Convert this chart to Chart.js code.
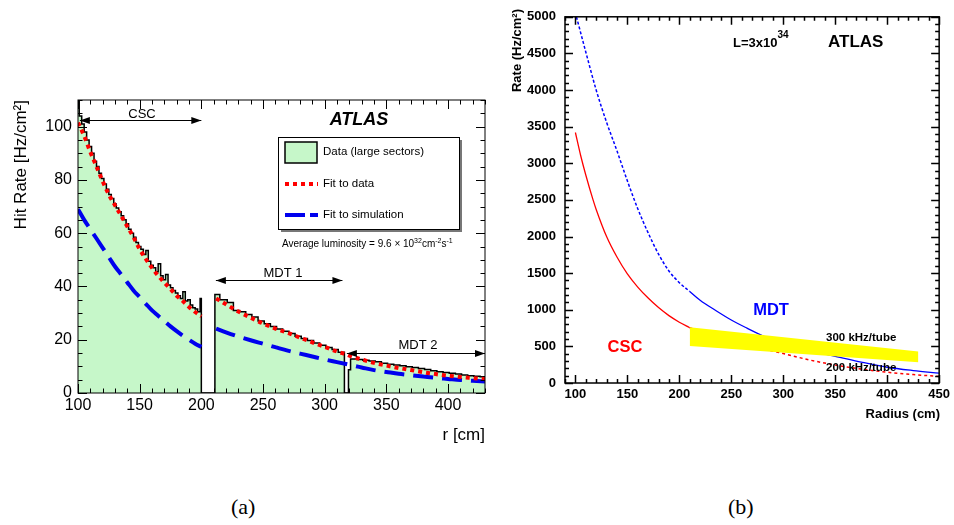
<!DOCTYPE html>
<html>
<head>
<meta charset="utf-8">
<script src="https://cdn.jsdelivr.net/npm/chart.js@4.4.1/dist/chart.umd.min.js"></script>
<style>
    body { margin: 0; background: #fff; width: 954px; height: 525px; position: relative; overflow: hidden; }
    #wrapA { position: absolute; left: 0; top: 0; width: 495px; height: 470px; }
    #wrapB { position: absolute; left: 495px; top: 0; width: 459px; height: 470px; }
    .cap { position: absolute; top: 494px; font-family: "Liberation Serif", serif; font-size: 22px; color: #000; }
</style>
</head>
<body>
<div id="wrapA"><canvas id="chartA" width="495" height="470"></canvas></div>
<div id="wrapB"><canvas id="chartB" width="459" height="470"></canvas></div>
<div class="cap" style="left:231px">(a)</div>
<div class="cap" style="left:728px">(b)</div>
<script>
// ---------- panel (a): measured hit rates ----------
// histogram: lower bin edge (cm) and rate (Hz/cm2)
var histR = [100, 101, 103, 105, 107, 109, 111, 113, 115, 117, 119, 121, 123, 125, 127, 129, 131, 133, 135, 137,
    139, 141, 143, 145, 147, 149, 151, 153, 155, 157, 159, 161, 163, 165, 167, 169, 171, 173, 175, 177,
    179, 181, 183, 185, 187, 189, 191, 193, 195, 197, 199, 200,
    211, 215, 221, 226, 231, 236, 241, 246, 251, 256, 261, 266, 271, 276, 281, 286, 291, 296, 301, 306, 311, 316,
    319.3, 321, 326, 331, 336, 341, 346, 351, 356, 361, 366, 371, 376, 381, 386, 391, 396, 401, 406, 411, 416,
    421, 426, 430];
var histRate = [113, 104, 101, 98, 95, 92.5, 90, 87, 85, 82.5, 80.5, 78.5, 76.5, 74.5, 73, 71, 69.5, 68, 66.5, 65,
    63.5, 61.5, 60, 58.5, 56.5, 55, 54, 52, 53.5, 49.5, 48, 47, 45.5, 48.5, 44, 42.5, 44.5, 40.5, 39.5, 38.5,
    37.5, 36.5, 35.5, 38, 34.5, 35, 33, 32, 31.5, 30.5, 35.5, 0,
    37, 35, 34, 31, 30.5, 29.5, 28.5, 27, 26, 25, 24, 23.2, 22.3, 21.3, 20.5, 19.7, 18.8, 17.9, 17.1, 16.3, 15.3, 0,
    8.7, 12.8, 12.6, 12.3, 12.0, 11.7, 11.2, 10.8, 10.5, 10.2, 9.9, 9.6, 9.2, 8.8, 8.4, 8.0, 7.7, 7.4, 7.1, 6.8, 6.5,
    6.3, 6.1, 6.1];

var fitDataR = [100, 105, 110, 115, 120, 125, 130, 135, 140, 145, 150, 155, 160, 165, 170, 175, 180, 185, 190, 195, 200,
    205,
    212, 220, 230, 240, 250, 260, 270, 280, 290, 300, 310, 318, 320, 330, 340, 350, 360, 370, 380, 390, 400, 410, 420, 430];
var fitDataRate = [101.5, 96.5, 90.5, 85, 79.5, 74.5, 70.5, 66.5, 62.5, 58.5, 54, 50.3, 47, 44, 41.5, 39, 36.5, 34.5, 32.3, 30.4, 28.8,
    null,
    35.5, 33.3, 30.6, 28.3, 26.1, 24.2, 22.6, 20.8, 19.0, 17.3, 15.6, 14.4, 14.0, 12.6, 11.3, 10.3, 9.4, 8.6, 7.8, 7.1, 6.5, 6.0, 5.6, 5.2];

var fitSimR = [100, 105, 110, 115, 120, 125, 130, 135, 140, 145, 150, 155, 160, 165, 170, 175, 180, 185, 190, 195, 200,
    205,
    212, 220, 230, 240, 250, 260, 270, 280, 290, 300, 310, 320, 330, 340, 350, 360, 370, 380, 390, 400, 410, 420, 430];
var fitSimRate = [69, 65, 61.5, 58, 54.5, 51, 47.5, 44.5, 41.5, 38.5, 36, 33.5, 31, 29, 27, 25, 23.2, 21.5, 20, 18.5, 17.3,
    null,
    24.2, 22.8, 21.2, 19.8, 18.5, 17.2, 15.9, 14.8, 13.7, 12.6, 11.6, 10.6, 9.6, 8.6, 7.9, 7.2, 6.7, 6.2, 5.7, 5.3, 4.9, 4.6, 4.3];

var xTicksA = [100, 150, 200, 250, 300, 350, 400];
var yTicksA = [0, 20, 40, 60, 80, 100];

// ---------- panel (b): expected rates at L=3x10^34 ----------
var cscR = [100, 105, 110, 117, 120, 130, 140, 150, 160, 170, 180, 190, 200, 210];
var cscRate = [3420, 3110, 2840, 2500, 2370, 2000, 1720, 1490, 1310, 1160, 1030, 920, 830, 755];
var cscExtR = [210, 230, 250, 275, 300, 325, 350, 375, 400, 425, 450];
var cscExtRate = [755, 660, 570, 480, 402, 315, 246, 190, 147, 115, 90];
var mdtExtR = [101, 110, 120, 130, 140, 150, 160, 170, 180, 190, 200, 210];
var mdtExtRate = [5000, 4520, 4000, 3560, 3170, 2760, 2380, 2050, 1760, 1530, 1370, 1250];
var mdtR = [210, 220, 235, 250, 265, 285, 300, 325, 350, 375, 400, 425, 450];
var mdtRate = [1250, 1130, 990, 860, 750, 615, 540, 440, 365, 285, 215, 170, 135];
var bandR = [210, 430];
var bandHigh = [760, 430];
var bandLow = [505, 282];

var xTicksB = [100, 150, 200, 250, 300, 350, 400, 450];
var yTicksB = [0, 500, 1000, 1500, 2000, 2500, 3000, 3500, 4000, 4500, 5000];

var SANS = '"Liberation Sans", Arial, sans-serif';

function pts(xs, ys) {
    return xs.map(function (x, i) { return { x: x, y: ys[i] }; });
}

function plainLabel(v) {
    return String(v);
}

// ROOT style frame with ticks pointing inwards on all four sides
var innerTicks = {
    id: 'innerTicks',
    afterDatasetsDraw: function (chart, args, o) {
        var ctx = chart.ctx, a = chart.chartArea, sx = chart.scales.x, sy = chart.scales.y;
        ctx.save();
        ctx.strokeStyle = '#000';
        ctx.lineWidth = o.lw;
        ctx.beginPath();
        var v, p, L;
        for (v = Math.ceil(sx.min / o.xStep) * o.xStep; v <= sx.max + 1e-6; v += o.xStep) {
            p = Math.round(sx.getPixelForValue(v)) + 0.5;
            L = (Math.abs(v % o.xMajor) < 1e-6) ? o.major : o.minor;
            ctx.moveTo(p, a.bottom); ctx.lineTo(p, a.bottom - L);
            ctx.moveTo(p, a.top); ctx.lineTo(p, a.top + L);
        }
        for (v = Math.ceil(sy.min / o.yStep) * o.yStep; v <= sy.max + 1e-6; v += o.yStep) {
            p = Math.round(sy.getPixelForValue(v)) + 0.5;
            L = (Math.abs(v % o.yMajor) < 1e-6) ? o.major : o.minor;
            ctx.moveTo(a.left, p); ctx.lineTo(a.left + L, p);
            ctx.moveTo(a.right, p); ctx.lineTo(a.right - L, p);
        }
        ctx.stroke();
        ctx.strokeRect(a.left, a.top, a.right - a.left, a.bottom - a.top);
        ctx.restore();
    }
};

function arrow(ctx, x1, x2, y, headLeft, headRight) {
    ctx.beginPath();
    ctx.moveTo(x1, y); ctx.lineTo(x2, y);
    ctx.stroke();
    if (headRight) {
        ctx.beginPath();
        ctx.moveTo(x2, y); ctx.lineTo(x2 - 10, y - 3.5); ctx.lineTo(x2 - 10, y + 3.5);
        ctx.closePath(); ctx.fill();
    }
    if (headLeft) {
        ctx.beginPath();
        ctx.moveTo(x1, y); ctx.lineTo(x1 + 10, y - 3.5); ctx.lineTo(x1 + 10, y + 3.5);
        ctx.closePath(); ctx.fill();
    }
}

// text made of pieces: [text, size, weight, rise]
function richText(ctx, x, y, parts) {
    ctx.textAlign = 'left';
    ctx.textBaseline = 'alphabetic';
    parts.forEach(function (p) {
        ctx.font = (p[2] || 'normal') + ' ' + p[1] + 'px ' + SANS;
        ctx.fillText(p[0], x, y - (p[3] || 0));
        x += ctx.measureText(p[0]).width;
    });
}

function text(ctx, s, x, y, font, align, color) {
    ctx.font = font;
    ctx.textAlign = align || 'center';
    ctx.textBaseline = 'middle';
    ctx.fillStyle = color || '#000';
    ctx.fillText(s, x, y);
}

var annotA = {
    id: 'annotA',
    afterDraw: function (chart) {
        var ctx = chart.ctx, sx = chart.scales.x, sy = chart.scales.y;
        ctx.save();
        ctx.strokeStyle = '#000';
        ctx.fillStyle = '#000';
        ctx.lineWidth = 1;

        // chamber ranges
        var yC = Math.round(sy.getPixelForValue(102.4)) + 0.5;
        arrow(ctx, sx.getPixelForValue(101.5), sx.getPixelForValue(200), yC, true, true);
        text(ctx, 'CSC', 142, 114, '13px ' + SANS);
        var y1 = Math.round(sy.getPixelForValue(42.3)) + 0.5;
        arrow(ctx, sx.getPixelForValue(211.8), sx.getPixelForValue(314.4), y1, true, true);
        text(ctx, 'MDT 1', 283, 273, '13px ' + SANS);
        var y2 = Math.round(sy.getPixelForValue(15.1)) + 0.5;
        arrow(ctx, sx.getPixelForValue(318), sx.getPixelForValue(430), y2, true, true);
        text(ctx, 'MDT 2', 418, 345, '13px ' + SANS);

        text(ctx, 'ATLAS', 359, 120, 'italic bold 18px ' + SANS);

        // legend box
        ctx.fillStyle = '#777';
        ctx.fillRect(281, 140, 181, 92);
        ctx.fillStyle = '#fff';
        ctx.fillRect(278, 137, 181, 92);
        ctx.strokeStyle = '#000';
        ctx.strokeRect(278.5, 137.5, 181, 92);
        ctx.fillStyle = '#c6f7c9';
        ctx.fillRect(285, 142, 32, 21);
        ctx.lineWidth = 1.5;
        ctx.strokeRect(285, 142, 32, 21);
        ctx.lineWidth = 4;
        ctx.strokeStyle = '#ff0000';
        ctx.setLineDash([4, 4]);
        ctx.beginPath(); ctx.moveTo(285, 184); ctx.lineTo(318, 184); ctx.stroke();
        ctx.strokeStyle = '#0000ee';
        ctx.setLineDash([20, 5, 9, 100]);
        ctx.beginPath(); ctx.moveTo(285, 215); ctx.lineTo(318, 215); ctx.stroke();
        ctx.setLineDash([]);
        text(ctx, 'Data (large sectors)', 323, 152, '11.5px ' + SANS, 'left');
        text(ctx, 'Fit to data', 323, 184, '11.5px ' + SANS, 'left');
        text(ctx, 'Fit to simulation', 323, 215, '11.5px ' + SANS, 'left');

        ctx.fillStyle = '#000';
        richText(ctx, 282, 247, [['Average luminosity = 9.6 \u00d7 10', 10], ['32', 7, 'normal', 4],
            ['cm', 10], ['-2', 7, 'normal', 4], ['s', 10], ['-1', 7, 'normal', 4]]);

        text(ctx, 'r [cm]', 485, 435, '17px ' + SANS, 'right');

        ctx.translate(21, 100);
        ctx.rotate(-Math.PI / 2);
        text(ctx, 'Hit Rate [Hz/cm\u00b2]', 0, 0, '17px ' + SANS, 'right');
        ctx.restore();
    }
};

var annotB = {
    id: 'annotB',
    afterDraw: function (chart) {
        var ctx = chart.ctx;
        var ox = 495;
        ctx.save();
        ctx.fillStyle = '#000';
        richText(ctx, 733 - ox, 47, [['L=3x10', 13, 'bold'], ['34', 10, 'bold', 9]]);
        text(ctx, 'ATLAS', 828 - ox, 42, 'bold 17px ' + SANS, 'left');
        text(ctx, 'CSC', 625 - ox, 347, 'bold 16.5px ' + SANS, 'center', '#ff0000');
        text(ctx, 'MDT', 771 - ox, 310, 'bold 16.5px ' + SANS, 'center', '#0000ff');
        text(ctx, '300 kHz/tube', 826 - ox, 338, 'bold 11.5px ' + SANS, 'left');
        text(ctx, '200 kHz/tube', 826 - ox, 368, 'bold 11.5px ' + SANS, 'left');
        text(ctx, 'Radius (cm)', 940 - ox, 414, 'bold 13px ' + SANS, 'right');
        ctx.translate(517 - ox, 9);
        ctx.rotate(-Math.PI / 2);
        text(ctx, 'Rate (Hz/cm\u00b2)', 0, 0, 'bold 13px ' + SANS, 'right');
        ctx.restore();
    }
};

var chartA = new Chart(document.getElementById('chartA'), {
    type: 'line',
    data: {
        datasets: [{
            label: 'Fit to data',
            data: pts(fitDataR, fitDataRate),
            borderColor: '#ff0000',
            borderWidth: 4,
            borderDash: [4, 4],
            cubicInterpolationMode: 'monotone',
            pointRadius: 0,
            fill: false
        }, {
            label: 'Fit to simulation',
            data: pts(fitSimR, fitSimRate),
            borderColor: '#0000ee',
            borderWidth: 4,
            borderDash: [20, 9],
            cubicInterpolationMode: 'monotone',
            pointRadius: 0,
            fill: false
        }, {
            label: 'Data (large sectors)',
            data: pts(histR, histRate),
            stepped: true,
            borderColor: '#000',
            borderWidth: 1.5,
            backgroundColor: '#c6f7c9',
            fill: 'origin',
            pointRadius: 0
        }]
    },
    options: {
        responsive: false,
        animation: false,
        events: [],
        layout: { padding: { top: 100, right: 10, left: 0, bottom: 0 } },
        plugins: {
            legend: { display: false },
            tooltip: { enabled: false },
            innerTicks: { lw: 1, major: 9, minor: 4.5, xStep: 10, xMajor: 50, yStep: 5, yMajor: 20 }
        },
        scales: {
            x: {
                type: 'linear', min: 100, max: 430,
                grid: { display: false, drawTicks: false },
                border: { display: false },
                ticks: { color: '#000', font: { family: SANS, size: 16 }, padding: 3, maxRotation: 0, callback: plainLabel },
                afterBuildTicks: function (s) { s.ticks = xTicksA.map(function (v) { return { value: v }; }); },
                afterFit: function (s) { s.height = 77; }
            },
            y: {
                type: 'linear', min: 0, max: 110,
                grid: { display: false, drawTicks: false },
                border: { display: false },
                ticks: { color: '#000', font: { family: SANS, size: 16 }, padding: 6, callback: plainLabel },
                afterBuildTicks: function (s) { s.ticks = yTicksA.map(function (v) { return { value: v }; }); },
                afterFit: function (s) { s.width = 78; }
            }
        }
    },
    plugins: [innerTicks, annotA]
});

var chartB = new Chart(document.getElementById('chartB'), {
    type: 'line',
    data: {
        datasets: [{
            label: '300 kHz/tube',
            data: pts(bandR, bandHigh),
            borderWidth: 0,
            backgroundColor: '#ffff00',
            fill: '+1',
            pointRadius: 0
        }, {
            label: '200 kHz/tube',
            data: pts(bandR, bandLow),
            borderWidth: 0,
            fill: false,
            pointRadius: 0
        }, {
            label: 'CSC',
            data: pts(cscR, cscRate),
            borderColor: '#ff0000',
            borderWidth: 1.3,
            cubicInterpolationMode: 'monotone',
            pointRadius: 0,
            fill: false
        }, {
            label: 'CSC extrapolated',
            data: pts(cscExtR, cscExtRate),
            borderColor: '#ff0000',
            borderWidth: 1.5,
            borderDash: [3, 3],
            cubicInterpolationMode: 'monotone',
            pointRadius: 0,
            fill: false
        }, {
            label: 'MDT extrapolated',
            data: pts(mdtExtR, mdtExtRate),
            borderColor: '#0000ff',
            borderWidth: 1.5,
            borderDash: [3, 2],
            cubicInterpolationMode: 'monotone',
            pointRadius: 0,
            fill: false
        }, {
            label: 'MDT',
            data: pts(mdtR, mdtRate),
            borderColor: '#0000ff',
            borderWidth: 1.3,
            cubicInterpolationMode: 'monotone',
            pointRadius: 0,
            fill: false
        }]
    },
    options: {
        responsive: false,
        animation: false,
        events: [],
        layout: { padding: { top: 9, right: 14, left: 0, bottom: 0 } },
        plugins: {
            legend: { display: false },
            tooltip: { enabled: false },
            innerTicks: { lw: 1.5, major: 8, minor: 4, xStep: 10, xMajor: 50, yStep: 100, yMajor: 500 }
        },
        scales: {
            x: {
                type: 'linear', min: 90, max: 450,
                grid: { display: false, drawTicks: false },
                border: { display: false },
                ticks: { color: '#000', font: { family: SANS, size: 13, weight: 'bold' }, padding: 4, maxRotation: 0, callback: plainLabel },
                afterBuildTicks: function (s) { s.ticks = xTicksB.map(function (v) { return { value: v }; }); },
                afterFit: function (s) { s.height = 87; }
            },
            y: {
                type: 'linear', min: 0, max: 5000,
                grid: { display: false, drawTicks: false },
                border: { display: false },
                ticks: { color: '#000', font: { family: SANS, size: 13, weight: 'bold' }, padding: 9, callback: plainLabel },
                afterBuildTicks: function (s) { s.ticks = yTicksB.map(function (v) { return { value: v }; }); },
                afterFit: function (s) { s.width = 70; }
            }
        }
    },
    plugins: [innerTicks, annotB]
});
</script>
</body>
</html>
